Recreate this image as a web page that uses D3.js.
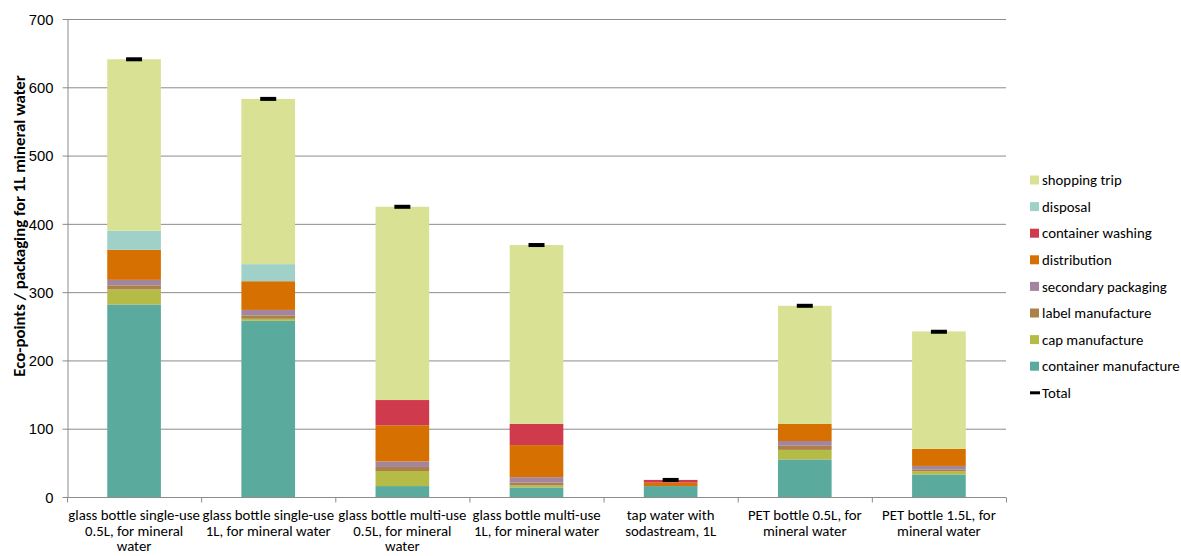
<!DOCTYPE html>
<html>
<head>
<meta charset="utf-8">
<script src="https://cdn.jsdelivr.net/npm/d3@7"></script>
<style>
	body { margin: 0; background: #fff; }
	svg { font-family: Carlito, Lato, "Open Sans", sans-serif; }
	.grid line { stroke: #8c8c8c; stroke-width: 1; }
	.axis path, .axis line { stroke: #8c8c8c; }
	.axis text { fill: #000; font-size: 14.8px; }
</style>
</head>
<body>
<svg id="chart" width="1181" height="556"></svg>
<script>
// categories (tick labels, pre-wrapped like the original)
const categories = [
	"glass bottle single-use\n0.5L, for mineral\nwater",
	"glass bottle single-use\n1L, for mineral water",
	"glass bottle multi-use\n0.5L, for mineral\nwater",
	"glass bottle multi-use\n1L, for mineral water",
	"tap water with\nsodastream, 1L",
	"PET bottle 0.5L, for\nmineral water",
	"PET bottle 1.5L, for\nmineral water"
];

// stack order bottom -> top
const seriesNames = ["container manufacture", "cap manufacture", "label manufacture",
	"secondary packaging", "distribution", "container washing", "disposal", "shopping trip"];
const seriesColors = ["#5aaa9e", "#b5bb47", "#ab8148", "#a485a0", "#d67000", "#cf3a4c", "#9fd1c9", "#d9e194"];

const containerManufacture = [282, 258, 16, 14, 16, 55, 33];
const capManufacture       = [22, 3, 22, 3, 0, 14, 4.5];
const labelManufacture     = [6, 5, 6, 4, 0, 6, 3];
const secondaryPackaging   = [8, 8, 8, 8, 0, 7, 5];
const distribution         = [44, 42, 53, 47, 5, 25, 25];
const containerWashing     = [0, 0, 37, 31, 4, 0, 0];
const disposal             = [28, 25, 0, 0, 0, 0, 0];
const shoppingTrip         = [251, 242, 283, 262, 0, 173, 172];
const totals               = [641, 583, 425, 369, 25, 280, 242];

const yTicks = [0, 100, 200, 300, 400, 500, 600, 700];

//////////////////////////////////////////////////////////////////////

const seriesValues = [containerManufacture, capManufacture, labelManufacture, secondaryPackaging,
	distribution, containerWashing, disposal, shoppingTrip];

const rows = categories.map(function(c, i) {
	const row = {cat: c};
	seriesNames.forEach(function(s, j) { row[s] = seriesValues[j][i]; });
	return row;
});

const margin = {left: 67, right: 175, top: 19, bottom: 59};
const width = 1181, height = 556;
const svg = d3.select('#chart');

const x = d3.scaleBand()
	.domain(categories)
	.range([margin.left, width - margin.right])
	.paddingInner(0.6)
	.paddingOuter(0.3);

const y = d3.scaleLinear()
	.domain([0, 700])
	.range([height - margin.bottom, margin.top]);

// gridlines
svg.append('g')
	.attr('class', 'grid')
	.selectAll('line')
	.data(yTicks.slice(1))
	.join('line')
	.attr('x1', margin.left)
	.attr('x2', width - margin.right)
	.attr('y1', function(d) { return y(d) + 0.5; })
	.attr('y2', function(d) { return y(d) + 0.5; });

// stacked bars
const stack = d3.stack().keys(seriesNames);
const layers = stack(rows);

svg.append('g')
	.selectAll('g')
	.data(layers)
	.join('g')
	.attr('fill', function(d, i) { return seriesColors[i]; })
	.selectAll('rect')
	.data(function(d) { return d; })
	.join('rect')
	.attr('x', function(d) { return x(d.data.cat); })
	.attr('width', x.bandwidth())
	.attr('y', function(d) { return y(d[1]); })
	.attr('height', function(d) { return Math.max(0, y(d[0]) - y(d[1])); });

// totals markers
svg.append('g')
	.selectAll('rect')
	.data(totals)
	.join('rect')
	.attr('x', function(d, i) { return x(categories[i]) + x.bandwidth() / 2 - 8; })
	.attr('y', function(d) { return y(d) - 2; })
	.attr('width', 16)
	.attr('height', 4)
	.attr('fill', '#000');

// y axis
const yAxis = svg.append('g')
	.attr('class', 'axis')
	.attr('transform', 'translate(' + (margin.left + 0.5) + ',0)')
	.call(d3.axisLeft(y).tickValues(yTicks).tickSize(5).tickPadding(9).tickSizeOuter(0));
yAxis.selectAll('text').attr('dy', '0.35em');

// x axis with boundary ticks between categories
const xAxisY = y(0) + 0.5;
const xg = svg.append('g').attr('class', 'axis');
xg.append('line')
	.attr('x1', margin.left)
	.attr('x2', width - margin.right)
	.attr('y1', xAxisY)
	.attr('y2', xAxisY);
const boundaries = d3.range(categories.length + 1).map(function(i) {
	return margin.left + i * (width - margin.left - margin.right) / categories.length;
});
xg.selectAll('line.tick')
	.data(boundaries)
	.join('line')
	.attr('class', 'tick')
	.attr('x1', function(d) { return d + 0.5; })
	.attr('x2', function(d) { return d + 0.5; })
	.attr('y1', xAxisY)
	.attr('y2', xAxisY + 5);

const labels = xg.selectAll('text')
	.data(categories)
	.join('text')
	.attr('text-anchor', 'middle')
	.attr('fill', '#000')
	.attr('x', function(d) { return x(d) + x.bandwidth() / 2; })
	.attr('y', 520);
labels.selectAll('tspan')
	.data(function(d) { return d.split('\n'); })
	.join('tspan')
	.attr('x', function() { return d3.select(this.parentNode).attr('x'); })
	.attr('dy', function(d, i) { return i === 0 ? 0 : 15.5; })
	.text(function(d) { return d; });

// y axis title
svg.append('text')
	.attr('transform', 'translate(25,226) rotate(-90)')
	.attr('text-anchor', 'middle')
	.attr('font-size', 16.8)
	.attr('font-weight', 'bold')
	.text('Eco-points / packaging for 1L mineral water');

// legend
const legendNames = seriesNames.slice().reverse();
const legendColors = seriesColors.slice().reverse();
const legend = svg.append('g').attr('transform', 'translate(1030,180)');
const items = legend.selectAll('g')
	.data(legendNames.concat(['Total']))
	.join('g')
	.attr('transform', function(d, i) { return 'translate(0,' + (i * 26.6) + ')'; });
items.each(function(d, i) {
	const g = d3.select(this);
	if (d === 'Total') {
		g.append('rect').attr('x', 0).attr('y', -1.5).attr('width', 10).attr('height', 3).attr('fill', '#000');
	} else {
		g.append('rect').attr('x', 0).attr('y', -4.5).attr('width', 9).attr('height', 9).attr('fill', legendColors[i]);
	}
});
items.append('text')
	.attr('x', 12)
	.attr('dy', '0.35em')
	.attr('font-size', 14.8)
	.text(function(d) { return d; });
</script>
</body>
</html>
